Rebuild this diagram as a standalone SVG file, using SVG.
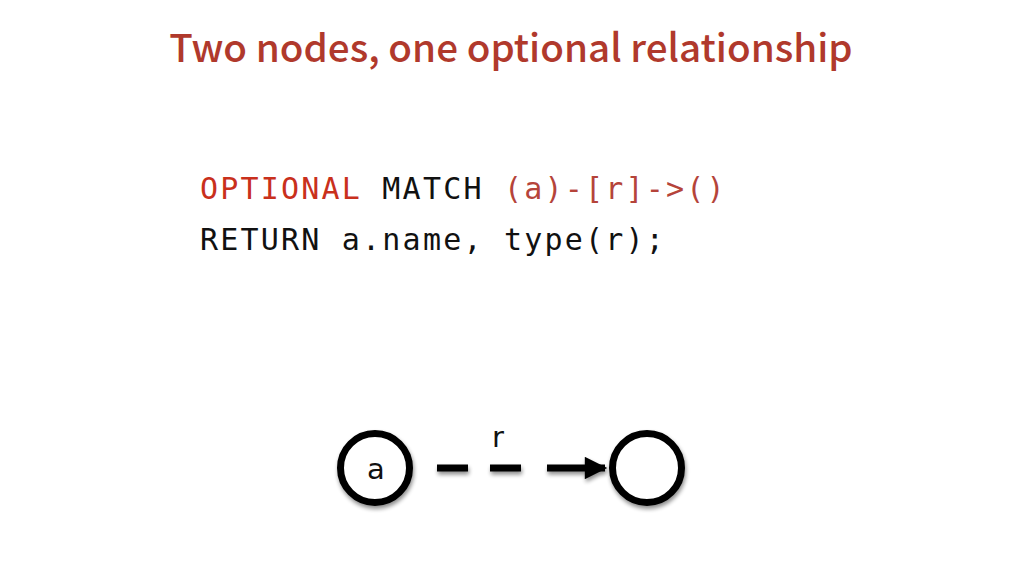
<svg xmlns="http://www.w3.org/2000/svg" width="1024" height="576" viewBox="0 0 1024 576">
  <style>
    .title { font-family: "Noto Sans CJK KR", "Open Sans", sans-serif; font-size: 38.6px; font-weight: 500; fill: #B0392C; }
    .code { font-family: "DejaVu Sans Mono", "Liberation Mono", monospace; font-size: 30px; fill: #111; letter-spacing: 2.2px; }
    .kw { fill: #C9301C; }
    .pat { fill: #B5443A; }
    .node { fill: #fff; stroke: #000; stroke-width: 7; filter: url(#shadow); }
    .lbl { font-family: "DejaVu Sans", "Liberation Sans", sans-serif; font-size: 29px; fill: #111; text-anchor: middle; }
    .rel { stroke: #000; stroke-width: 7; fill: none; }
  </style>
  <defs>
    <filter id="shadow" x="-30%" y="-30%" width="160%" height="160%">
      <feGaussianBlur in="SourceAlpha" stdDeviation="2"/>
      <feOffset dx="1" dy="3" result="b"/>
      <feComponentTransfer><feFuncA type="linear" slope="0.45"/></feComponentTransfer>
      <feMerge><feMergeNode/><feMergeNode in="SourceGraphic"/></feMerge>
    </filter>
    <!-- user-space region so the flat horizontal strokes are not clipped -->
    <filter id="lineShadow" filterUnits="userSpaceOnUse" x="420" y="440" width="210" height="60">
      <feGaussianBlur in="SourceAlpha" stdDeviation="2"/>
      <feOffset dx="1" dy="3" result="b"/>
      <feComponentTransfer><feFuncA type="linear" slope="0.45"/></feComponentTransfer>
      <feMerge><feMergeNode/><feMergeNode in="SourceGraphic"/></feMerge>
    </filter>
    <marker id="head" viewBox="0 0 10 10" refX="9" refY="5" markerWidth="3.6" markerHeight="3.2" markerUnits="strokeWidth" orient="auto">
      <path d="M0,0 L10,5 L0,10 Z" fill="#000"/>
    </marker>
  </defs>
  <rect width="1024" height="576" fill="#fff"/>

  <text class="title" x="511" y="62" text-anchor="middle">Two nodes, one optional relationship</text>

  <text class="code" x="200" y="199"><tspan class="kw">OPTIONAL</tspan> MATCH <tspan class="pat">(a)-[r]-&gt;()</tspan></text>
  <text class="code" x="200" y="250">RETURN a.name, type(r);</text>

  <g id="connectors">
    <g filter="url(#lineShadow)">
      <line class="rel" x1="437" y1="468" x2="468" y2="468"/>
      <line class="rel" x1="490" y1="468" x2="521" y2="468"/>
      <line class="rel" x1="547" y1="468" x2="605" y2="468" marker-end="url(#head)"/>
    </g>
    <text class="lbl" x="498" y="447">r</text>
  </g>

  <g id="node-a">
    <circle class="node" cx="375" cy="468" r="34.5"/>
    <text class="lbl" x="376" y="479">a</text>
  </g>

  <g id="node-b">
    <circle class="node" cx="647" cy="468" r="34.5"/>
  </g>
</svg>
